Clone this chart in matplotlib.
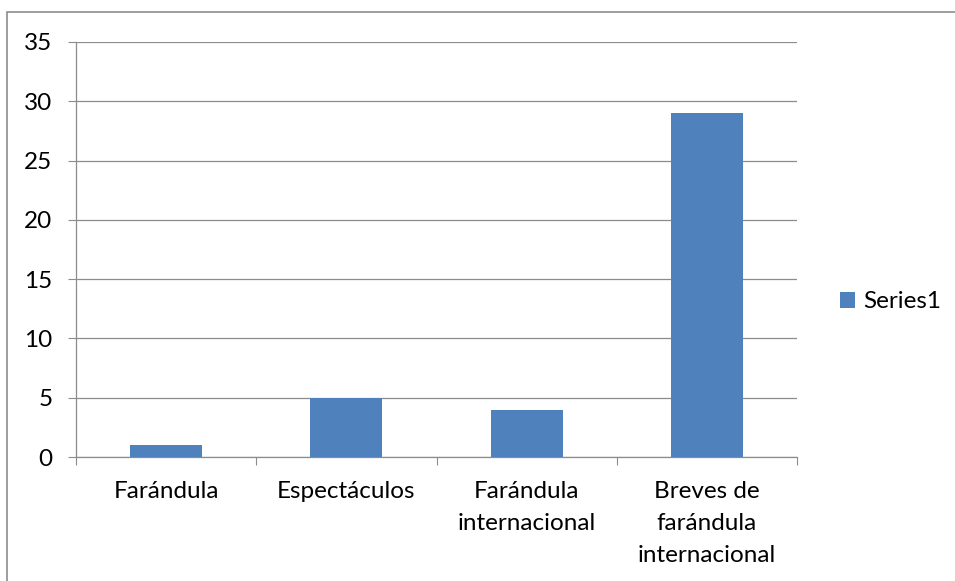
import matplotlib
matplotlib.use("Agg")
import matplotlib.pyplot as plt
from matplotlib.patches import Rectangle
import numpy as np

categories = ["Farándula", "Espectáculos", "Farándula\ninternacional", "Breves de\nfarándula\ninternacional"]
values = [1, 5, 4, 29]
series_name = "Series1"
yticks = [0, 5, 10, 15, 20, 25, 30, 35]

plt.rcParams['font.family'] = ['Lato', 'DejaVu Sans']
FS = 17.5

W, H = 955, 581
fig = plt.figure(figsize=(W/100, H/100), dpi=100)
L, R, T, B = 76, 797, 42, 457
ax = fig.add_axes([L/W, 1-B/H, (R-L)/W, (B-T)/H])

x = np.arange(len(categories))
bars = ax.bar(x, values, width=0.4, color="#4F81BD", zorder=3, label=series_name)
ax.set_xlim(-0.5, len(categories)-0.5)
ax.set_ylim(0, 35)
ax.set_yticks(yticks)
ax.set_yticklabels([str(v) for v in yticks], fontsize=FS)
ax.yaxis.grid(True, color="#8c8c8c", linewidth=0.9, zorder=0)
ax.set_axisbelow(True)
for s in ["top", "right"]:
    ax.spines[s].set_visible(False)
for s in ["left", "bottom"]:
    ax.spines[s].set_color("#8c8c8c")
    ax.spines[s].set_linewidth(0.9)
ax.tick_params(axis="y", length=6, color="#8c8c8c", pad=11, labelsize=FS)
ax.set_xticks(np.arange(-0.5, len(categories), 1.0))
ax.set_xticklabels([])
ax.tick_params(axis="x", length=6, color="#8c8c8c")
for xi, c in zip(x, categories):
    ax.annotate(c, xy=(xi, 0), xycoords="data", xytext=(0, -17), textcoords="offset points",
                ha="center", va="top", fontsize=FS, linespacing=1.65, annotation_clip=False)

fig.legend(handles=[bars], labels=[series_name], loc="center left",
           bbox_to_anchor=(840/W, 1-302/H), frameon=False, fontsize=FS,
           borderaxespad=0, borderpad=0,
           handlelength=0.6, handleheight=0.6, handletextpad=0.35)

fig.patches.append(Rectangle((7/W, -0.1), 1.2, 1-12/H+0.1, transform=fig.transFigure,
                             fill=False, edgecolor="#8c8c8c", linewidth=1.2))
fig.savefig("out.png", dpi=100)
